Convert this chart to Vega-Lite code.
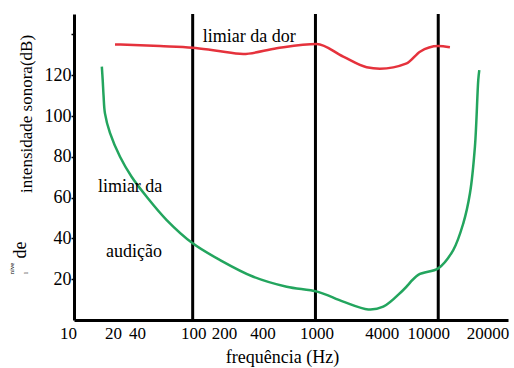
{
  "$schema": "https://vega.github.io/schema/vega-lite/v6.json",
  "width": 434,
  "height": 306,
  "autosize": {"type": "none"},
  "padding": {"left": 74, "top": 14, "right": 6, "bottom": 48},
  "background": "white",
  "config": {"view": {"stroke": null}, "font": "Liberation Serif, Times New Roman, DejaVu Serif, serif"},
  "encoding": {
    "x": {
      "field": "f",
      "type": "quantitative",
      "scale": {"type": "log", "domain": [10.8, 37000], "nice": false},
      "axis": {
        "title": "frequência (Hz)",
        "values": [10.8, 22.4, 35.2, 101, 179.8, 370, 1019, 3460, 8286, 25160],
        "labelExpr": "datum.value < 15 ? '10' : datum.value < 28 ? '20' : datum.value < 60 ? '40' : datum.value < 130 ? '100' : datum.value < 250 ? '200' : datum.value < 600 ? '400' : datum.value < 2000 ? '1000' : datum.value < 5000 ? '4000' : datum.value < 15000 ? '10000' : '20000'",
        "labelOverlap": false,
        "labelFlush": false,
        "ticks": false,
        "grid": false,
        "domainColor": "black",
        "domainWidth": 3,
        "labelFont": "Liberation Serif, Times New Roman, DejaVu Serif, serif",
        "labelFontSize": 17,
        "labelColor": "black",
        "labelPadding": 5,
        "labelOffset": {"condition": {"test": "datum.value < 11", "value": -6}, "value": 0},
        "titleFont": "Liberation Serif, Times New Roman, DejaVu Serif, serif",
        "titleFontSize": 18,
        "titleFontWeight": "normal",
        "titleColor": "black",
        "titleX": 208,
        "titleY": 42,
        "titleBaseline": "alphabetic"
      }
    },
    "y": {
      "field": "db",
      "type": "quantitative",
      "scale": {"domain": [0, 150], "nice": false, "zero": false},
      "axis": {
        "title": "intensidade sonora(dB)",
        "values": [20, 40, 60, 80, 100, 120, 140],
        "labelExpr": "datum.value == 140 ? '' : datum.label",
        "labelFlush": false,
        "grid": false,
        "tickSize": 3,
        "tickColor": "black",
        "tickWidth": 1.5,
        "domainColor": "black",
        "domainWidth": 3,
        "labelFont": "Liberation Serif, Times New Roman, DejaVu Serif, serif",
        "labelFontSize": 18,
        "labelColor": "black",
        "labelPadding": 0,
        "titleFont": "Liberation Serif, Times New Roman, DejaVu Serif, serif",
        "titleFontSize": 17,
        "titleFontWeight": "normal",
        "titleColor": "black",
        "titleX": -48,
        "titleY": 99.5,
        "titleAlign": "center",
        "titleBaseline": "middle"
      }
    }
  },
  "layer": [
    {
      "data": {"values": [{"f": 100, "db": 0, "top": 150}, {"f": 1000, "db": 0, "top": 150}, {"f": 10000, "db": 0, "top": 150}]},
      "mark": {"type": "rule", "color": "black", "strokeWidth": 3},
      "encoding": {"y2": {"field": "top"}}
    },
    {
      "data": {"values": [
        {"f": 23.3, "db": 135.1},
        {"f": 54.2, "db": 134.3},
        {"f": 100, "db": 133.5},
        {"f": 157, "db": 132.0},
        {"f": 258, "db": 130.4},
        {"f": 483, "db": 133.2},
        {"f": 1023, "db": 135.3},
        {"f": 1684, "db": 129.1},
        {"f": 2612, "db": 123.9},
        {"f": 3350, "db": 123.2},
        {"f": 5530, "db": 125.8},
        {"f": 7100, "db": 131.5},
        {"f": 10000, "db": 134.3},
        {"f": 12450, "db": 133.7}
      ]},
      "mark": {"type": "line", "color": "#e5323c", "strokeWidth": 2.5, "interpolate": "monotone"}
    },
    {
      "data": {"values": [
        {"f": 18.2, "db": 124.2},
        {"f": 18.5, "db": 117.6},
        {"f": 18.8, "db": 110.0},
        {"f": 19.3, "db": 101.3},
        {"f": 21.2, "db": 91.7},
        {"f": 25.6, "db": 80.0},
        {"f": 31.8, "db": 70.2},
        {"f": 42.2, "db": 60.4},
        {"f": 61.4, "db": 49.0},
        {"f": 100, "db": 37.6},
        {"f": 167, "db": 29.4},
        {"f": 312, "db": 21.2},
        {"f": 583, "db": 16.3},
        {"f": 1035, "db": 13.9},
        {"f": 1684, "db": 9.0},
        {"f": 2692, "db": 5.2},
        {"f": 3565, "db": 6.5},
        {"f": 5190, "db": 14.7},
        {"f": 6877, "db": 22.1},
        {"f": 10000, "db": 25.3},
        {"f": 13250, "db": 34.3},
        {"f": 16000, "db": 47.4},
        {"f": 18130, "db": 62.1},
        {"f": 19900, "db": 85.0},
        {"f": 21180, "db": 117.6},
        {"f": 21600, "db": 122.5}
      ]},
      "mark": {"type": "line", "color": "#23a55e", "strokeWidth": 2.5, "interpolate": "catmull-rom"}
    },
    {
      "data": {"values": [
        {"t": "limiar da dor", "f": 121, "db": 136.4},
        {"t": "limiar da", "f": 16.9, "db": 62.6},
        {"t": "audição", "f": 19.7, "db": 31.0}
      ]},
      "mark": {"type": "text", "align": "left", "baseline": "alphabetic", "fontSize": 18, "font": "Liberation Serif, Times New Roman, DejaVu Serif, serif", "color": "black"},
      "encoding": {"text": {"field": "t"}}
    },
    {
      "data": {"values": [{"t": "de", "f": 10.8, "db": 34.3}]},
      "mark": {"type": "text", "align": "center", "baseline": "middle", "angle": 270, "dy": -53, "fontSize": 18, "font": "Liberation Serif, Times New Roman, DejaVu Serif, serif", "color": "black"},
      "encoding": {"text": {"field": "t"}}
    },
    {
      "data": {"values": [{"t": "níve", "f": 10.8, "db": 25.2}]},
      "mark": {"type": "text", "align": "center", "baseline": "middle", "angle": 270, "dy": -62, "fontSize": 7, "font": "Liberation Serif, Times New Roman, DejaVu Serif, serif", "color": "black"},
      "encoding": {"text": {"field": "t"}}
    },
    {
      "data": {"values": [{"t": "l", "f": 10.8, "db": 23.0}]},
      "mark": {"type": "text", "align": "center", "baseline": "middle", "angle": 270, "dy": -48, "fontSize": 7, "font": "Liberation Serif, Times New Roman, DejaVu Serif, serif", "color": "black"},
      "encoding": {"text": {"field": "t"}}
    }
  ]
}
